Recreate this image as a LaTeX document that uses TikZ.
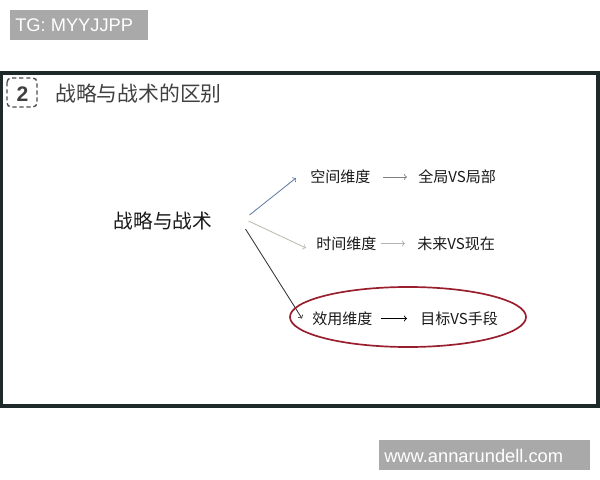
\documentclass[tikz,border=0pt]{standalone}
\usepackage{fontspec}
\setmainfont{Noto Sans CJK SC}
\newfontfamily\latinsans{Liberation Sans}
\usetikzlibrary{calc}
\definecolor{framegray}{HTML}{1E2A2A}
\definecolor{tagbg}{HTML}{A9A9A9}
\definecolor{ringred}{HTML}{9A1F2E}
\definecolor{bluearrow}{HTML}{5F7F9F}
\definecolor{beigearrow}{HTML}{BDBBAE}
\begin{document}
\begin{tikzpicture}[x=0.025cm,y=-0.025cm,
            dim/.style = {inner sep=0pt, anchor=west, text=black!90,
                        font=\fontsize{10.7pt}{12pt}\selectfont},
            tag/.style = {fill=tagbg, text=white, inner sep=0pt,
                        font=\latinsans\fontsize{13pt}{14pt}\selectfont},
            link/.style = {->, line width=0.6pt}]
            \useasboundingbox (0,0) rectangle (600,480);

            % Tags
            \fill[tagbg] (10,10) rectangle (148,40);
            \node[tag,anchor=west] (tg) at (15,25) {TG: MYYJJPP};
            \fill[tagbg] (379,440) rectangle (590,470);
            \node[tag,anchor=west] (web) at (384,455.5) {www.annarundell.com};

            % Frame
            \draw[framegray, line width=2.2pt] (1,73) rectangle (598,406);
            \draw[black!70, densely dashed, line width=1pt, rounded corners=3pt] (7,78) rectangle (37,107);
            \node[font=\latinsans\bfseries\fontsize{15pt}{16pt}\selectfont, text=black!75] (num) at (22.5,94) {2};
            \node[inner sep=0pt, anchor=west, text=black!75,
                  font=\fontsize{14.8pt}{16pt}\selectfont] (title) at (55,93.5) {战略与战术的区别};

            % Main topic
            \node[inner sep=0pt, text=black!90,
                  font=\fontsize{14pt}{16pt}\selectfont] (main) at (163,220.5) {战略与战术};

            % Dimensions
            \node[dim] (space) at (310,177) {空间维度};
            \node[dim] (spaceR) at (418,177) {全局VS局部};
            \node[dim] (time) at (316,243.5) {时间维度};
            \node[dim] (timeR) at (417,243.5) {未来VS现在};
            \node[dim] (util) at (312,318.5) {效用维度};
            \node[dim] (utilR) at (420,318.5) {目标VS手段};

            % Branches
            \draw[link, bluearrow] ($(main.east)+(37,-5.5)$) -- ($(space.west)+(-14,1)$);
            \draw[link, beigearrow] ($(main.east)+(36,0.5)$) -- ($(time.west)+(-10,4.5)$);
            \draw[link, black!80] ($(main.east)+(33,8.5)$) -- ($(util.west)+(-10,0)$);
            \draw[link, gray] (space.east) ++(12,0) -- ($(spaceR.west)+(-11,0)$);
            \draw[link, black!30] (time.east) ++(4,0) -- ($(timeR.west)+(-12,0)$);
            \draw[link, black] (util.east) ++(8,0) -- ($(utilR.west)+(-13,0)$);

            % Highlight
            \draw[ringred, line width=1.2pt] (408,317) ellipse [x radius=2.95cm, y radius=0.75cm];
        \end{tikzpicture}
\end{document}
